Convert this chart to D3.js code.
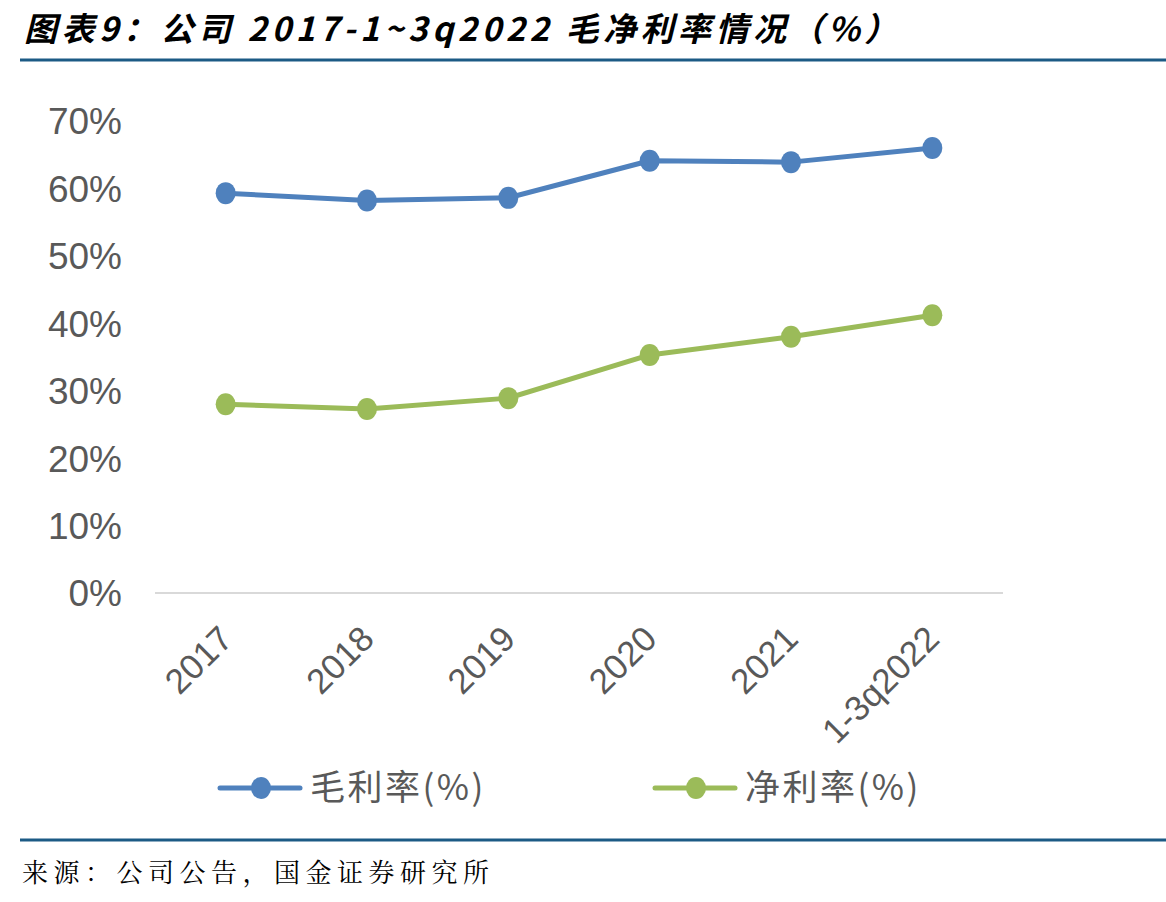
<!DOCTYPE html>
<html>
<head>
<meta charset="utf-8">
<script src="https://cdn.jsdelivr.net/npm/d3@7"></script>
<style>
  body { margin: 0; background: #fff; }
  svg { display: block; }
</style>
</head>
<body>
<div id="wrapper"></div>
<script>
const categories = ["2017", "2018", "2019", "2020", "2021", "1-3q2022"];
const grossMargin = [59.3, 58.2, 58.6, 64.1, 63.9, 66.0];
const netMargin = [28.0, 27.3, 28.9, 35.3, 38.0, 41.2];
const yTicks = [0, 10, 20, 30, 40, 50, 60, 70];
const seriesNames = ["毛利率(%)", "净利率(%)"];

const width = 1166, height = 902;
const blue = "#4f81bd", green = "#9bbb59";
const textGray = "#595959";

const svg = d3.select("#wrapper").append("svg")
    .attr("width", width)
    .attr("height", height);

// title
svg.append("text")
    .attr("x", 24)
    .attr("y", 41)
    .text("图表9：公司 2017-1~3q2022 毛净利率情况（%）")
    .attr("font-family", "'Noto Sans CJK SC', sans-serif")
    .attr("font-weight", "bold")
    .attr("font-style", "italic")
    .attr("font-size", "33px")
    .attr("letter-spacing", "4.5px")
    .attr("fill", "#000");

svg.append("line")
    .attr("x1", 20).attr("x2", width)
    .attr("y1", 60).attr("y2", 60)
    .attr("stroke", "#1c5a85")
    .attr("stroke-width", 3);

svg.append("line")
    .attr("x1", 20).attr("x2", width)
    .attr("y1", 840).attr("y2", 840)
    .attr("stroke", "#1c5a85")
    .attr("stroke-width", 3);

svg.append("text")
    .attr("x", 22)
    .attr("y", 882)
    .text("来源：公司公告，国金证券研究所")
    .attr("font-family", "'Noto Serif CJK SC', 'Noto Sans CJK SC', serif")
    .attr("font-size", "26px")
    .attr("letter-spacing", "5.5px")
    .attr("fill", "#000");

// scales
const xScale = d3.scaleBand()
    .domain(categories)
    .range([155, 1003]);

const yScale = d3.scaleLinear()
    .domain([0, 70])
    .range([593, 121]);

// y axis labels
const yAxis = svg.append("g")
    .attr("transform", "translate(122,0)")
    .call(d3.axisLeft(yScale).tickValues(yTicks).tickFormat(d => d + "%").tickSize(0).tickPadding(0));
yAxis.select(".domain").remove();
yAxis.selectAll("text")
    .attr("font-family", "Arial, 'Liberation Sans', sans-serif")
    .attr("font-size", "37px")
    .attr("fill", textGray)
    .attr("dy", "0.35em");

// baseline
svg.append("line")
    .attr("x1", xScale.range()[0]).attr("x2", xScale.range()[1])
    .attr("y1", yScale(0)).attr("y2", yScale(0))
    .attr("stroke", "#d9d9d9")
    .attr("stroke-width", 2);

// x labels
const xAxis = svg.append("g")
    .attr("transform", `translate(0,${yScale(0)})`)
    .call(d3.axisBottom(xScale).tickSize(0).tickPadding(0));
xAxis.select(".domain").remove();
xAxis.selectAll("text")
    .attr("font-family", "Arial, 'Liberation Sans', sans-serif")
    .attr("font-size", "35px")
    .attr("fill", textGray)
    .attr("text-anchor", "end")
    .attr("dy", 0)
    .attr("transform", "translate(9,48) rotate(-45)");

// lines
const lineGen = d3.line()
    .x((d, i) => xScale(categories[i]) + xScale.bandwidth() / 2)
    .y(d => yScale(d));

[[grossMargin, blue], [netMargin, green]].forEach(([values, color]) => {
    svg.append("path")
        .datum(values)
        .attr("d", lineGen)
        .attr("fill", "none")
        .attr("stroke", color)
        .attr("stroke-width", 5)
        .attr("stroke-linejoin", "round");

    svg.selectAll(null)
        .data(values)
        .enter()
        .append("ellipse")
        .attr("cx", (d, i) => xScale(categories[i]) + xScale.bandwidth() / 2)
        .attr("cy", d => yScale(d))
        .attr("rx", 10)
        .attr("ry", 11)
        .attr("fill", color);
});

// legend
const legendItems = [
    { name: seriesNames[0], color: blue, x: 220 },
    { name: seriesNames[1], color: green, x: 655 }
];
const legend = svg.selectAll(".legend")
    .data(legendItems)
    .enter()
    .append("g")
    .attr("transform", d => `translate(${d.x},788)`);
legend.append("line")
    .attr("x1", 0).attr("x2", 80)
    .attr("stroke", d => d.color)
    .attr("stroke-width", 5)
    .attr("stroke-linecap", "round");
legend.append("ellipse")
    .attr("cx", 41)
    .attr("rx", 10).attr("ry", 11)
    .attr("fill", d => d.color);
legend.append("text")
    .attr("x", 90)
    .attr("dy", "0.35em")
    .text(d => d.name)
    .attr("font-family", "'Noto Sans CJK SC', sans-serif")
    .attr("font-size", "35px")
    .attr("letter-spacing", "2.5px")
    .attr("fill", textGray);
</script>
</body>
</html>
